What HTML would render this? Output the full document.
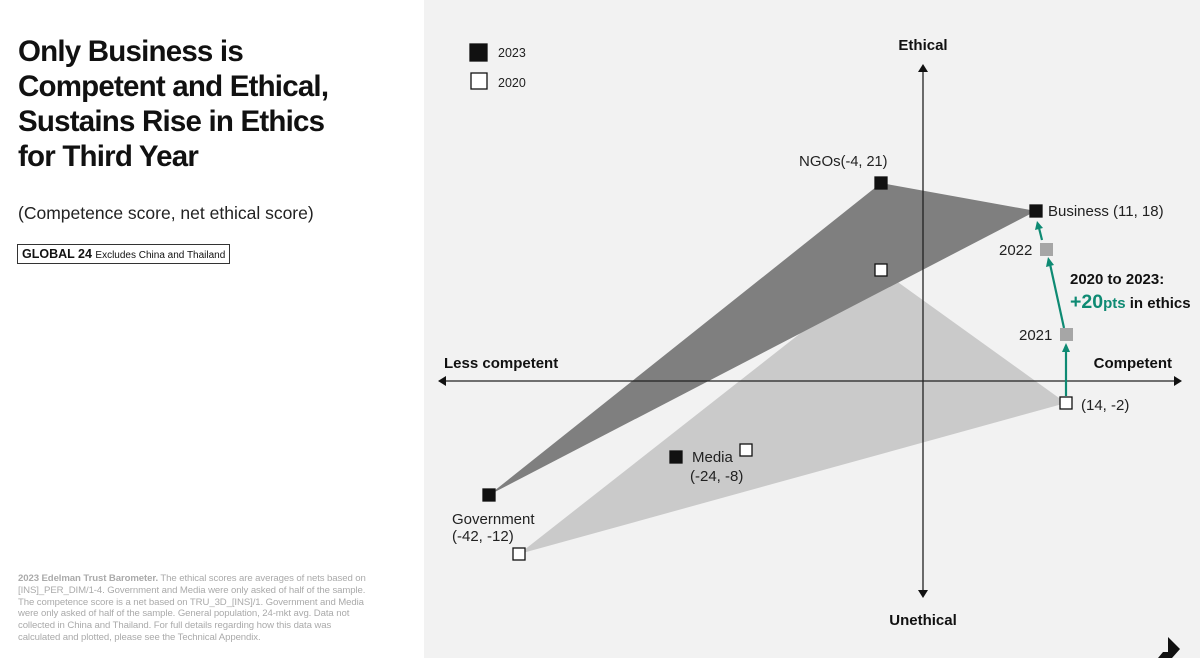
<!DOCTYPE html>
<html><head><meta charset="utf-8"><style>
html,body{margin:0;padding:0}
body{width:1200px;height:658px;position:relative;background:#fff;font-family:"Liberation Sans",Arial,sans-serif;overflow:hidden}
.t{position:absolute;left:18px;top:34px;font-size:29.5px;font-weight:bold;line-height:35px;color:#111;letter-spacing:-0.8px}
.sub{position:absolute;left:18px;top:203px;font-size:17.5px;color:#222}
.box{position:absolute;left:17px;top:244px;border:1.5px solid #333;padding:2px 4px;font-size:12.5px;color:#111;white-space:nowrap}
.box small{font-size:10px}
.foot{position:absolute;left:18px;top:573px;width:356px;font-size:9.6px;line-height:11.8px;color:#aaa;letter-spacing:-0.1px}
</style></head><body>
<div class="t">Only Business is<br>Competent and Ethical,<br>Sustains Rise in Ethics<br>for Third Year</div>
<div class="sub">(Competence score, net ethical score)</div>
<div class="box"><b>GLOBAL 24</b> <small>Excludes China and Thailand</small></div>
<div class="foot"><b>2023 Edelman Trust Barometer.</b> The ethical scores are averages of nets based on [INS]_PER_DIM/1-4. Government and Media were only asked of half of the sample. The competence score is a net based on TRU_3D_[INS]/1. Government and Media were only asked of half of the sample. General population, 24-mkt avg. Data not collected in China and Thailand. For full details regarding how this data was calculated and plotted, please see the Technical Appendix.</div>
<svg style="position:absolute;left:0;top:0" width="1200" height="658" font-family="Liberation Sans,Arial,sans-serif">
<rect x="424" y="0" width="776" height="658" fill="#f2f2f2"/>
<polygon points="881,270 1066,403 519,554" fill="#cacaca"/>
<polygon points="881,183 1036,211 489,495" fill="#7f7f7f"/>
<line x1="444" y1="381" x2="1176" y2="381" stroke="#222" stroke-width="1.3"/>
<polygon points="438,381 446,376 446,386" fill="#111"/>
<polygon points="1182,381 1174,376 1174,386" fill="#111"/>
<line x1="923" y1="70" x2="923" y2="592" stroke="#222" stroke-width="1.3"/>
<polygon points="923,64 918,72 928,72" fill="#111"/>
<polygon points="923,598 918,590 928,590" fill="#111"/>
<g stroke="#0e8a73" stroke-width="2.2" fill="#0e8a73">
<line x1="1066" y1="396" x2="1066" y2="350"/><polygon points="1066,343 1062,352 1070,352" stroke="none"/>
<line x1="1064" y1="328" x2="1050" y2="264"/><polygon points="1048,257 1046,267 1054,265" stroke="none"/>
<line x1="1042" y1="240" x2="1039" y2="228"/><polygon points="1037,221 1035,230 1043,228" stroke="none"/>
</g>
<g stroke="#111" stroke-width="1.3">
<rect x="470" y="44" width="17" height="17" fill="#111"/>
<rect x="471" y="73" width="16" height="16" fill="#fff"/>
<rect x="875" y="177" width="12" height="12" fill="#111"/>
<rect x="1030" y="205" width="12" height="12" fill="#111"/>
<rect x="483" y="489" width="12" height="12" fill="#111"/>
<rect x="670" y="451" width="12" height="12" fill="#111"/>
<rect x="875" y="264" width="12" height="12" fill="#fff"/>
<rect x="1060" y="397" width="12" height="12" fill="#fff"/>
<rect x="513" y="548" width="12" height="12" fill="#fff"/>
<rect x="740" y="444" width="12" height="12" fill="#fff"/>
</g>
<rect x="1040" y="243" width="13" height="13" fill="#a6a6a6"/>
<rect x="1060" y="328" width="13" height="13" fill="#a6a6a6"/>
<g font-size="15" fill="#222">
<text x="498" y="57" font-size="12.5">2023</text>
<text x="498" y="87" font-size="12.5">2020</text>
<text x="799" y="166">NGOs<tspan font-size="14.5">(-4, 21)</tspan></text>
<text x="1048" y="216">Business (11, 18)</text>
<text x="999" y="255">2022</text>
<text x="1019" y="340">2021</text>
<text x="1081" y="410">(14, -2)</text>
<text x="692" y="462">Media</text>
<text x="690" y="481">(-24, -8)</text>
<text x="452" y="524">Government</text>
<text x="452" y="541">(-42, -12)</text>
</g>
<g font-size="15" font-weight="bold" fill="#111">
<text x="923" y="50" text-anchor="middle">Ethical</text>
<text x="923" y="625" text-anchor="middle">Unethical</text>
<text x="444" y="368">Less competent</text>
<text x="1172" y="368" text-anchor="end">Competent</text>
<text x="1070" y="284">2020 to 2023:</text>
<text x="1070" y="308"><tspan fill="#0e8a73" font-size="19.5">+20</tspan><tspan fill="#0e8a73">pts</tspan> in ethics</text>
</g>
<polygon points="1168,637 1180,649 1172,658 1158,658 1163,652 1168,652" fill="#111"/>
</svg>
</body></html>
